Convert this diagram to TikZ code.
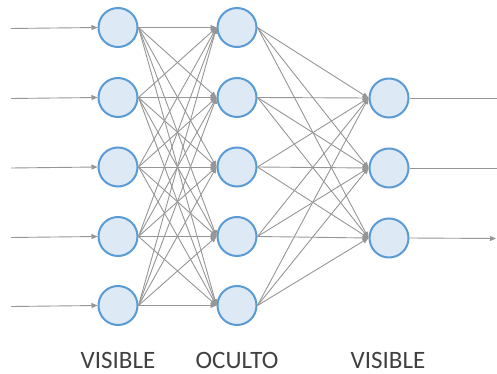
\documentclass[tikz,border=0pt]{standalone}
\usepackage{fontspec}
\setmainfont{Carlito}
\usetikzlibrary{arrows.meta}
\definecolor{nodefill}{RGB}{222,233,246}
\definecolor{nodeline}{RGB}{91,155,213}
\definecolor{edgegrey}{RGB}{150,150,150}
\definecolor{labelgrey}{RGB}{64,64,64}
\begin{document}
\begin{tikzpicture}[x=1pt,y=-1pt,
  neuron/.style={circle,draw=nodeline,fill=nodefill,line width=2pt,minimum size=39pt,inner sep=0pt},
  link/.style={draw=edgegrey,line width=0.9pt,-{Triangle[length=6pt,width=5pt]}},
  plain/.style={draw=edgegrey,line width=0.9pt},
  layerlabel/.style={text=labelgrey,font=\fontsize{25}{30}\selectfont,inner sep=0pt,anchor=base}]
\useasboundingbox (0,0) rectangle (497,374);
% input layer
\foreach \i/\y in {1/27.5,2/97.5,3/167,4/236.5,5/305.5}{
  \node[neuron] (a\i) at (118,\y) {};
  \coordinate (in\i) at (11,\y+1);
  \draw[link] (in\i) -- (a\i.west);
}
% hidden layer
\foreach \i/\y in {1/27.5,2/97.5,3/167,4/236.5,5/305.5}{
  \node[neuron] (b\i) at (237,\y) {};
}
% output layer
\foreach \i/\y in {1/98,2/168,3/238}{
  \node[neuron] (c\i) at (389,\y) {};
}
% fully connected links, from the right point of one circle to the left point of the next
\foreach \i in {1,...,5}{
  \foreach \j in {1,...,5}{
    \draw[link] (a\i.east) -- (b\j.west);
  }
}
\foreach \i in {1,...,5}{
  \foreach \j in {1,2,3}{
    \draw[link] (b\i.east) -- (c\j.west);
  }
}
% outgoing lines
\coordinate (out1) at (497,98);
\coordinate (out2) at (497,168);
\coordinate (out3) at (496,238.5);
\draw[plain] (c1.east) -- (out1);
\draw[plain] (c2.east) -- (out2);
\draw[link] (c3.east) -- (out3);
% layer captions
\node[layerlabel] (l1) at (118,368) {VISIBLE};
\node[layerlabel] (l2) at (237,368) {OCULTO};
\node[layerlabel] (l3) at (388,368) {VISIBLE};
\end{tikzpicture}
\end{document}
